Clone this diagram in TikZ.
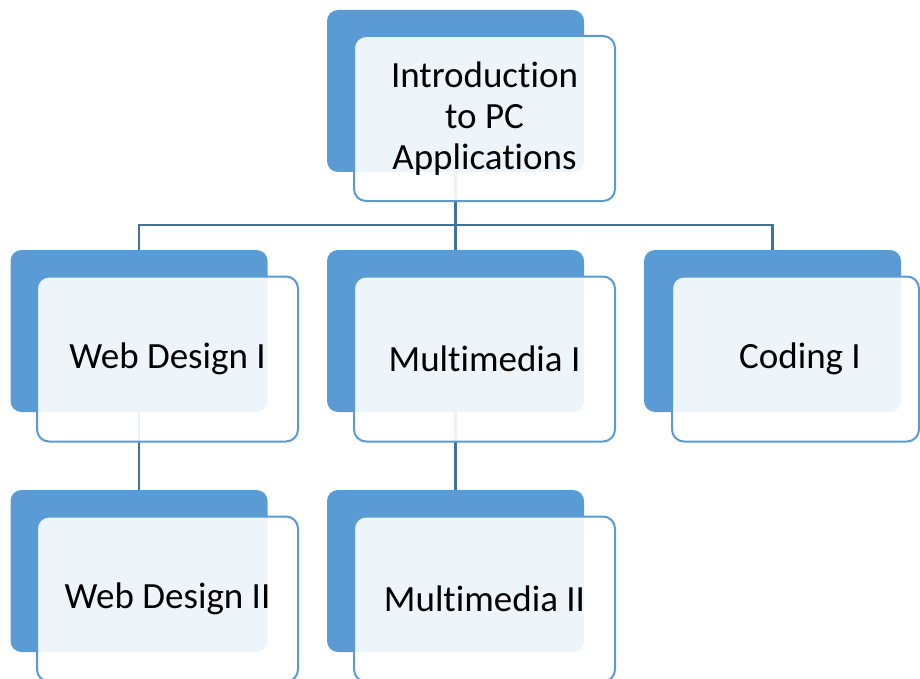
\documentclass[tikz,border=0pt]{standalone}
\usepackage{fontspec}
\setmainfont{Carlito}[Ligatures={NoCommon,NoRequired,NoContextual}]
\definecolor{accent}{HTML}{5B9BD5}
\definecolor{linkc}{HTML}{41719C}
\begin{document}
\begin{tikzpicture}[x=1pt,y=-1pt,
  backbox/.style={fill=accent,draw=none,rounded corners=11pt,minimum width=257pt,minimum height=162pt,inner sep=0pt},
  frontbox/.style={fill=white,fill opacity=0.9,text opacity=1,draw=accent,line width=2pt,rounded corners=12pt,minimum width=261pt,minimum height=165pt,inner sep=0pt,align=center,font=\fontsize{37}{41}\selectfont},
  link/.style={draw=linkc,line width=2.2pt}]
\useasboundingbox (0,0) rectangle (920,679);
% back boxes
\node[backbox] (topb) at (455.5,91) {};
\node[backbox] (web1b) at (139,331) {};
\node[backbox] (mm1b) at (455.5,331) {};
\node[backbox] (cod1b) at (772.5,331) {};
\node[backbox] (web2b) at (139,571) {};
\node[backbox] (mm2b) at (455.5,571) {};
% connectors
\coordinate (bus) at (455.5,225);
\draw[link] (topb.south) -- (bus);
\draw[link] (bus) -| (web1b.north);
\draw[link] (bus) -| (cod1b.north);
\draw[link] (bus) -- (mm1b.north);
\draw[link] (web1b.south) -- (web2b.north);
\draw[link] (mm1b.south) -- (mm2b.north);
% front boxes
\node[frontbox] (topf) at (484.5,118.5) {Introduction\\to PC\\Applications};
\node[frontbox] (web1f) at (167.5,359) {Web Design I};
\node[frontbox] (mm1f) at (484.5,359) {Multimedia I};
\node[frontbox,minimum width=247pt] (cod1f) at (795.5,359) {\hspace*{9pt}Coding I};
\node[frontbox] (web2f) at (167.5,599) {Web Design II};
\node[frontbox] (mm2f) at (484.5,599) {Multimedia II};
\end{tikzpicture}
\end{document}
